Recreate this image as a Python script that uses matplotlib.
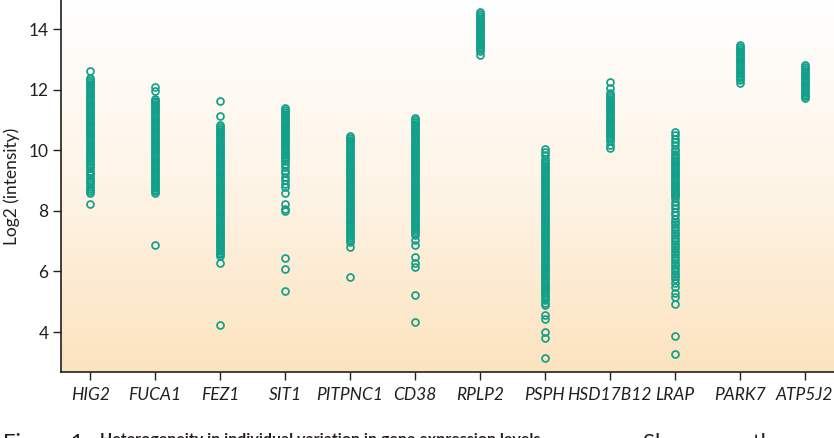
import numpy as np
import matplotlib.pyplot as plt
from matplotlib.colors import LinearSegmentedColormap

# gene names along the x axis
genes = ['HIG2', 'FUCA1', 'FEZ1', 'SIT1', 'PITPNC1', 'CD38',
         'RPLP2', 'PSPH', 'HSD17B12', 'LRAP', 'PARK7', 'ATP5J2']

# log2 intensity per individual
hig2 = [12.62, 12.38, 12.32, 12.26, 12.2, 12.14, 12.08, 12.02, 11.96, 11.9, 11.84, 11.78,
        11.72, 11.66, 11.6, 11.54, 11.48, 11.42, 11.36, 11.3, 11.24, 11.18, 11.12, 11.06,
        11.0, 10.94, 10.88, 10.82, 10.76, 10.7, 10.64, 10.58, 10.52, 10.46, 10.4, 10.34,
        10.28, 10.22, 10.16, 10.1, 10.04, 9.98, 9.92, 9.86, 9.8, 9.74, 9.68, 9.62, 9.55,
        9.47, 9.4, 9.32, 9.25, 9.17, 9.1, 9.02, 8.95, 8.87, 8.8, 8.72, 8.65, 8.59, 8.22]
fuca1 = [12.08, 11.97, 11.7, 11.64, 11.58, 11.52, 11.46, 11.4, 11.34, 11.28, 11.22, 11.16,
         11.1, 11.04, 10.98, 10.92, 10.86, 10.8, 10.74, 10.68, 10.62, 10.56, 10.5, 10.44,
         10.38, 10.32, 10.26, 10.2, 10.14, 10.08, 10.02, 9.96, 9.9, 9.84, 9.78, 9.72, 9.66,
         9.6, 9.54, 9.48, 9.42, 9.36, 9.3, 9.24, 9.18, 9.12, 9.06, 9.0, 8.94, 8.88, 8.82,
         8.76, 8.7, 8.64, 8.58, 6.87]
fez1 = [11.62, 11.13, 10.82, 10.76, 10.7, 10.64, 10.58, 10.52, 10.46, 10.4, 10.34, 10.28,
        10.22, 10.16, 10.1, 10.04, 9.98, 9.92, 9.86, 9.8, 9.74, 9.68, 9.62, 9.56, 9.5, 9.44,
        9.38, 9.32, 9.26, 9.2, 9.14, 9.08, 9.02, 8.96, 8.9, 8.84, 8.78, 8.72, 8.66, 8.6,
        8.54, 8.48, 8.42, 8.36, 8.3, 8.24, 8.18, 8.12, 8.06, 8.0, 7.94, 7.88, 7.82, 7.76,
        7.7, 7.64, 7.58, 7.52, 7.46, 7.4, 7.34, 7.28, 7.22, 7.16, 7.1, 7.04, 6.98, 6.92,
        6.86, 6.8, 6.74, 6.68, 6.62, 6.56, 6.5, 6.28, 4.23]
sit1 = [11.39, 11.33, 11.27, 11.21, 11.15, 11.09, 11.03, 10.97, 10.91, 10.85, 10.79, 10.73,
        10.67, 10.61, 10.55, 10.49, 10.43, 10.37, 10.31, 10.25, 10.19, 10.13, 10.07, 10.01,
        9.95, 9.89, 9.83, 9.77, 9.71, 9.65, 9.55, 9.44, 9.32, 9.25, 9.13, 9.02, 8.9, 8.79,
        8.59, 8.22, 8.07, 7.99, 6.45, 6.09, 5.35]
pitpnc1 = [10.47, 10.41, 10.35, 10.29, 10.23, 10.17, 10.11, 10.05, 9.99, 9.93, 9.87, 9.81,
           9.75, 9.69, 9.63, 9.57, 9.51, 9.45, 9.39, 9.33, 9.27, 9.21, 9.15, 9.09, 9.03,
           8.97, 8.91, 8.85, 8.79, 8.73, 8.67, 8.61, 8.55, 8.49, 8.43, 8.37, 8.31, 8.25,
           8.19, 8.13, 8.07, 8.01, 7.95, 7.89, 7.83, 7.77, 7.71, 7.65, 7.59, 7.53, 7.47,
           7.41, 7.35, 7.29, 7.23, 7.17, 7.11, 7.05, 6.97, 6.82, 5.83]
cd38 = [11.06, 11.0, 10.94, 10.88, 10.82, 10.76, 10.7, 10.64, 10.58, 10.52, 10.46, 10.4,
        10.34, 10.28, 10.22, 10.16, 10.1, 10.04, 9.98, 9.92, 9.86, 9.8, 9.74, 9.68, 9.62,
        9.56, 9.5, 9.44, 9.38, 9.32, 9.26, 9.2, 9.14, 9.08, 9.02, 8.96, 8.9, 8.84, 8.78,
        8.72, 8.66, 8.6, 8.54, 8.48, 8.42, 8.36, 8.3, 8.24, 8.18, 8.12, 8.06, 8.0, 7.94,
        7.88, 7.82, 7.76, 7.7, 7.64, 7.58, 7.52, 7.46, 7.4, 7.34, 7.28, 7.2, 7.05, 6.87,
        6.49, 6.29, 6.16, 5.21, 4.33]
rplp2 = [14.55, 14.49, 14.43, 14.37, 14.31, 14.25, 14.19, 14.13, 14.07, 14.01, 13.95, 13.89,
         13.83, 13.77, 13.71, 13.65, 13.59, 13.53, 13.47, 13.41, 13.35, 13.29, 13.16]
psph = [10.04, 9.93, 9.83, 9.72, 9.64, 9.58, 9.52, 9.46, 9.4, 9.34, 9.28, 9.22, 9.16, 9.1,
        9.04, 8.98, 8.92, 8.86, 8.8, 8.74, 8.68, 8.62, 8.56, 8.5, 8.44, 8.38, 8.32, 8.26,
        8.2, 8.14, 8.08, 8.02, 7.96, 7.9, 7.84, 7.78, 7.72, 7.66, 7.6, 7.54, 7.48, 7.42,
        7.36, 7.3, 7.24, 7.18, 7.12, 7.06, 7.0, 6.94, 6.88, 6.82, 6.76, 6.7, 6.64, 6.58,
        6.52, 6.46, 6.4, 6.34, 6.28, 6.22, 6.16, 6.1, 6.04, 5.98, 5.92, 5.86, 5.8, 5.74,
        5.68, 5.62, 5.56, 5.5, 5.44, 5.38, 5.32, 5.26, 5.2, 5.13, 5.05, 4.97, 4.89, 4.56,
        4.44, 4.01, 3.8, 3.14]
hsd17b12 = [12.26, 12.04, 11.88, 11.82, 11.76, 11.7, 11.64, 11.58, 11.52, 11.46, 11.4,
            11.34, 11.28, 11.22, 11.16, 11.1, 11.04, 10.98, 10.92, 10.86, 10.8, 10.74,
            10.68, 10.62, 10.56, 10.5, 10.44, 10.38, 10.3, 10.17, 10.08]
lrap = [10.61, 10.49, 10.38, 10.27, 10.16, 10.05, 9.96, 9.87, 9.8, 9.74, 9.68, 9.62, 9.56,
        9.5, 9.44, 9.38, 9.32, 9.26, 9.2, 9.14, 9.08, 9.02, 8.96, 8.9, 8.84, 8.78, 8.72,
        8.66, 8.6, 8.54, 8.48, 8.42, 8.3, 8.2, 8.08, 7.96, 7.85, 7.74, 7.64, 7.55, 7.46,
        7.37, 7.28, 7.19, 7.1, 7.01, 6.92, 6.83, 6.74, 6.65, 6.56, 6.47, 6.38, 6.29, 6.2,
        6.11, 6.02, 5.93, 5.84, 5.74, 5.62, 5.5, 5.3, 5.16, 4.92, 3.87, 3.27]
park7 = [13.47, 13.41, 13.35, 13.29, 13.23, 13.17, 13.11, 13.05, 12.99, 12.93, 12.87, 12.81,
         12.75, 12.69, 12.63, 12.57, 12.51, 12.45, 12.39, 12.31, 12.23]
atp5j2 = [12.8, 12.74, 12.68, 12.62, 12.56, 12.5, 12.44, 12.38, 12.32, 12.26, 12.2, 12.14,
          12.08, 12.02, 11.96, 11.9, 11.84, 11.78, 11.72]

values = [hig2, fuca1, fez1, sit1, pitpnc1, cd38, rplp2, psph, hsd17b12, lrap, park7, atp5j2]
yticks = [4, 6, 8, 10, 12, 14]

teal = '#13a08a'
ink = '#231f20'
plt.rcParams['font.family'] = ['Lato', 'DejaVu Sans']

fig = plt.figure(figsize=(8.34, 4.38), dpi=100)
ax = fig.add_axes([0.0731, 0.1507, 0.9269, 0.8493])

xlim = (-0.45, 11.45)
ylim = (2.68, 14.96)

# peach gradient behind the points
cmap = LinearSegmentedColormap.from_list('peach', ['#fce3bf', '#fef4e6', '#ffffff'])
grad = np.linspace(0, 1, 256).reshape(-1, 1)
ax.imshow(grad, extent=[xlim[0], xlim[1], ylim[0], ylim[1]], origin='lower',
          aspect='auto', cmap=cmap, zorder=0)

for i, vals in enumerate(values):
    ax.plot([i] * len(vals), vals, linestyle='none', marker='o', markersize=5.0,
            markerfacecolor='none', markeredgecolor=teal, markeredgewidth=1.25, zorder=3)

ax.set_xlim(xlim)
ax.set_ylim(ylim)
ax.set_xticks(range(len(genes)))
ax.set_xticklabels(genes, fontstyle='italic', fontsize=12.5, color=ink)
ax.set_yticks(yticks)
ax.set_yticklabels([str(t) for t in yticks], fontsize=12.5, color=ink)
ax.set_ylabel('Log2 (intensity)', fontsize=12.5, color=ink, labelpad=6)

for side in ['top', 'right']:
    ax.spines[side].set_visible(False)
for side in ['left', 'bottom']:
    ax.spines[side].set_color(ink)
    ax.spines[side].set_linewidth(1.2)
ax.tick_params(axis='both', direction='out', length=6, width=1, color=ink)
ax.tick_params(axis='x', pad=5)
ax.tick_params(axis='y', pad=3)

# caption, mostly cut off by the bottom edge
cap_y = 1 - 433 / 438
fig.text(0.004, cap_y, 'Figure 1', fontsize=16, color=ink, va='top', ha='left')
fig.text(100 / 834, cap_y, 'Heterogeneity in individual variation in gene expression levels',
         fontsize=11.5, fontweight='bold', color=ink, va='top', ha='left')
fig.text(643 / 834, cap_y, 'Shown are the', fontsize=16, color=ink, va='top', ha='left')

fig.savefig('out.png', dpi=100)
